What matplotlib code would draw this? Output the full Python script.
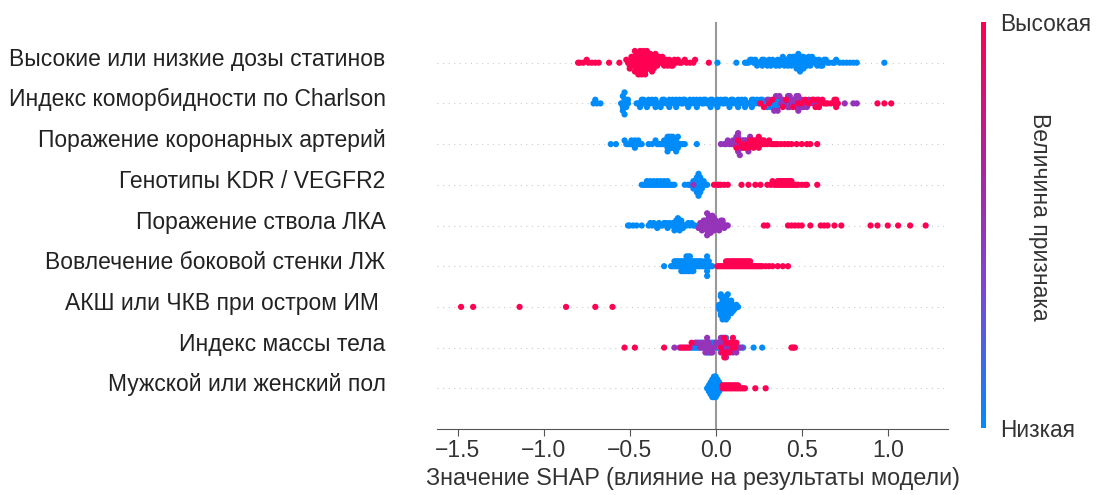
"""SHAP beeswarm: влияние признаков на результаты модели."""
import numpy as np
import matplotlib

matplotlib.use("Agg")
import matplotlib.pyplot as plt
from matplotlib.colors import LinearSegmentedColormap
from matplotlib.transforms import ScaledTranslation

plt.rcParams["font.family"] = ["Liberation Sans", "DejaVu Sans"]

# признаки сверху вниз
FEATURES = [
    "Высокие или низкие дозы статинов",
    "Индекс коморбидности по Charlson",
    "Поражение коронарных артерий",
    "Генотипы KDR / VEGFR2",
    "Поражение ствола ЛКА",
    "Вовлечение боковой стенки ЛЖ",
    "АКШ или ЧКВ при остром ИМ ",
    "Индекс массы тела",
    "Мужской или женский пол",
]

# значения SHAP, сгруппированные по величине признака (низкая / средняя / высокая)
STATIN_HIGH = [-0.80, -0.79, -0.77, -0.75, -0.74, -0.72, -0.70, -0.68, -0.62, -0.56,
               -0.52, -0.51, -0.50, -0.50, -0.49, -0.49, -0.49, -0.48, -0.48, -0.48,
               -0.48, -0.47, -0.47, -0.47, -0.47, -0.46, -0.46, -0.46, -0.46, -0.45,
               -0.45, -0.45, -0.45, -0.45, -0.44, -0.44, -0.44, -0.44, -0.43, -0.43,
               -0.43, -0.43, -0.43, -0.42, -0.42, -0.42, -0.42, -0.41, -0.41, -0.41,
               -0.41, -0.41, -0.40, -0.40, -0.40, -0.40, -0.39, -0.39, -0.39, -0.39,
               -0.39, -0.38, -0.38, -0.38, -0.38, -0.37, -0.37, -0.37, -0.36, -0.36,
               -0.36, -0.35, -0.35, -0.35, -0.34, -0.34, -0.33, -0.33, -0.32, -0.32,
               -0.31, -0.31, -0.30, -0.30, -0.29, -0.29, -0.28, -0.27, -0.27, -0.26,
               -0.25, -0.25, -0.24, -0.23, -0.22, -0.21, -0.20, -0.18, -0.17, -0.15,
               -0.13, -0.12, -0.04]
STATIN_LOW = [0.01, 0.12, 0.17, 0.18, 0.19, 0.20, 0.21, 0.22, 0.23, 0.24, 0.24, 0.25,
              0.26, 0.27, 0.27, 0.28, 0.29, 0.30, 0.30, 0.31, 0.32, 0.33, 0.33, 0.34,
              0.35, 0.35, 0.36, 0.37, 0.37, 0.38, 0.39, 0.39, 0.40, 0.40, 0.41, 0.41,
              0.42, 0.42, 0.43, 0.43, 0.44, 0.44, 0.45, 0.45, 0.46, 0.46, 0.47, 0.47,
              0.47, 0.48, 0.48, 0.48, 0.49, 0.49, 0.49, 0.49, 0.50, 0.50, 0.50, 0.50,
              0.51, 0.51, 0.51, 0.52, 0.52, 0.53, 0.53, 0.54, 0.54, 0.55, 0.55, 0.56,
              0.56, 0.57, 0.57, 0.58, 0.58, 0.59, 0.60, 0.60, 0.61, 0.62, 0.62, 0.63,
              0.64, 0.65, 0.66, 0.68, 0.69, 0.70, 0.72, 0.74, 0.76, 0.78, 0.80, 0.82,
              0.98]

CHARLSON_LOW = [-0.71, -0.70, -0.69, -0.67, -0.55, -0.54, -0.54, -0.54, -0.53, -0.53,
                -0.53, -0.53, -0.52, -0.52, -0.52, -0.51, -0.51, -0.46, -0.45, -0.44,
                -0.44, -0.43, -0.42, -0.42, -0.40, -0.39, -0.39, -0.38, -0.37, -0.36,
                -0.35, -0.35, -0.34, -0.33, -0.32, -0.31, -0.31, -0.30, -0.29, -0.28,
                -0.27, -0.27, -0.26, -0.25, -0.24, -0.23, -0.23, -0.22, -0.21, -0.20,
                -0.19, -0.19, -0.18, -0.17, -0.16, -0.15, -0.15, -0.14, -0.13, -0.12,
                -0.11, -0.11, -0.10, -0.09, -0.08, -0.07, -0.07, -0.06, -0.05, -0.04,
                -0.03, -0.03, -0.02, -0.01, 0.00, 0.01, 0.01, 0.02, 0.03, 0.04, 0.05,
                0.05, 0.06, 0.07, 0.08, 0.09, 0.09, 0.10, 0.11, 0.12, 0.13, 0.13, 0.14,
                0.15, 0.16, 0.17, 0.17, 0.18, 0.19, 0.20, 0.21, 0.21, 0.22, 0.23, 0.24,
                0.25, 0.26, 0.27, 0.28, 0.29, 0.30, 0.31, 0.32, 0.33, 0.34, 0.35, 0.35,
                0.36, 0.36, 0.37, 0.38]
CHARLSON_MID = [0.30, 0.34, 0.35, 0.36, 0.37, 0.38, 0.39, 0.40, 0.41, 0.42, 0.42, 0.43,
                0.43, 0.44, 0.44, 0.45, 0.45, 0.46, 0.46, 0.47, 0.47, 0.48, 0.48, 0.49,
                0.49, 0.50, 0.50, 0.51, 0.52, 0.53, 0.54, 0.55, 0.57, 0.58, 0.60, 0.75,
                0.80, 0.82]
CHARLSON_HIGH = [0.26, 0.28, 0.31, 0.33, 0.39, 0.41, 0.45, 0.48, 0.50, 0.52, 0.54, 0.56,
                 0.57, 0.58, 0.59, 0.60, 0.61, 0.62, 0.63, 0.64, 0.65, 0.67, 0.69, 0.69,
                 0.70, 0.70, 0.71, 0.94, 0.98, 1.02]

CORONARY_LOW = [-0.61, -0.58, -0.53, -0.52, -0.51, -0.50, -0.49, -0.49, -0.48, -0.47,
                -0.47, -0.46, -0.45, -0.45, -0.44, -0.43, -0.39, -0.37, -0.35, -0.34,
                -0.33, -0.32, -0.31, -0.30, -0.30, -0.29, -0.29, -0.28, -0.28, -0.28,
                -0.27, -0.27, -0.27, -0.27, -0.26, -0.26, -0.26, -0.26, -0.25, -0.25,
                -0.25, -0.25, -0.24, -0.24, -0.24, -0.23, -0.23, -0.23, -0.22, -0.22,
                -0.21, -0.20, -0.19, -0.18, -0.11]
CORONARY_MID = [0.03, 0.05, 0.06, 0.07, 0.08, 0.09, 0.10, 0.10, 0.11, 0.11, 0.12, 0.12,
                0.12, 0.13, 0.13, 0.13, 0.14, 0.14, 0.14, 0.15, 0.15, 0.16, 0.16, 0.17,
                0.17, 0.18, 0.19, 0.20, 0.22]
CORONARY_HIGH = [0.12, 0.13, 0.15, 0.16, 0.17, 0.18, 0.19, 0.20, 0.20, 0.21, 0.21, 0.22,
                 0.22, 0.23, 0.23, 0.24, 0.24, 0.25, 0.25, 0.26, 0.26, 0.27, 0.27, 0.28,
                 0.28, 0.29, 0.30, 0.31, 0.32, 0.33, 0.34, 0.35, 0.36, 0.38, 0.40, 0.42,
                 0.44, 0.47, 0.50, 0.53, 0.55, 0.59]

KDR_LOW = [-0.43, -0.42, -0.41, -0.40, -0.40, -0.39, -0.38, -0.38, -0.37, -0.36, -0.36,
           -0.35, -0.34, -0.34, -0.33, -0.32, -0.32, -0.31, -0.30, -0.30, -0.29, -0.28,
           -0.28, -0.27, -0.26, -0.25, -0.24, -0.18, -0.16, -0.15, -0.14, -0.13, -0.13,
           -0.12, -0.12, -0.12, -0.11, -0.11, -0.11, -0.11, -0.11, -0.10, -0.10, -0.10,
           -0.10, -0.10, -0.10, -0.10, -0.09, -0.09, -0.09, -0.09, -0.09, -0.08, -0.08,
           -0.08, -0.07, -0.07, -0.06, -0.05]
KDR_MID = [-0.13]
KDR_HIGH = [-0.01, 0.01, 0.02, 0.03, 0.05, 0.07, 0.15, 0.19, 0.23, 0.26, 0.30, 0.32,
            0.33, 0.34, 0.35, 0.36, 0.36, 0.37, 0.37, 0.38, 0.38, 0.39, 0.39, 0.40,
            0.40, 0.41, 0.41, 0.42, 0.42, 0.43, 0.43, 0.44, 0.44, 0.45, 0.46, 0.47,
            0.48, 0.50, 0.52, 0.53, 0.59]

LMCA_LOW = [-0.51, -0.50, -0.48, -0.46, -0.43, -0.39, -0.38, -0.37, -0.36, -0.35, -0.34,
            -0.33, -0.33, -0.32, -0.31, -0.30, -0.29, -0.28, -0.28, -0.27, -0.26, -0.25,
            -0.25, -0.24, -0.24, -0.23, -0.23, -0.23, -0.22, -0.22, -0.22, -0.21, -0.21,
            -0.21, -0.20, -0.20, -0.19, -0.19, -0.18, -0.17, -0.16, -0.15, -0.14, -0.13,
            -0.12]
LMCA_MID = [-0.10, -0.09, -0.09, -0.08, -0.08, -0.07, -0.07, -0.07, -0.06, -0.06, -0.06,
            -0.06, -0.05, -0.05, -0.05, -0.05, -0.05, -0.04, -0.04, -0.04, -0.04, -0.04,
            -0.03, -0.03, -0.03, -0.03, -0.02, -0.02, -0.02, -0.02, -0.01, -0.01, -0.01,
            0.00, 0.00, 0.00, 0.01, 0.01, 0.01, 0.02, 0.02, 0.02, 0.03, 0.03, 0.04,
            0.04, 0.05, 0.05, 0.06, 0.07]
LMCA_HIGH = [0.28, 0.30, 0.42, 0.44, 0.46, 0.48, 0.50, 0.55, 0.61, 0.63, 0.65, 0.69,
             0.73, 0.90, 0.94, 1.00, 1.06, 1.13, 1.22]

LATERAL_LOW = [-0.30, -0.26, -0.25, -0.24, -0.24, -0.23, -0.23, -0.22, -0.22, -0.21,
               -0.21, -0.20, -0.20, -0.20, -0.19, -0.19, -0.19, -0.18, -0.18, -0.18,
               -0.17, -0.17, -0.17, -0.17, -0.16, -0.16, -0.16, -0.16, -0.15, -0.15,
               -0.15, -0.15, -0.14, -0.14, -0.14, -0.13, -0.13, -0.13, -0.12, -0.12,
               -0.11, -0.11, -0.10, -0.10, -0.09, -0.09, -0.08, -0.08, -0.07, -0.06,
               -0.06, -0.05, -0.05, -0.05, -0.05, -0.05, -0.04, -0.04, -0.03, -0.02]
LATERAL_HIGH = [0.01, 0.02, 0.03, 0.04, 0.05, 0.06, 0.06, 0.07, 0.07, 0.08, 0.08, 0.09,
                0.09, 0.10, 0.10, 0.11, 0.11, 0.12, 0.12, 0.13, 0.13, 0.14, 0.14, 0.15,
                0.15, 0.16, 0.16, 0.17, 0.17, 0.18, 0.18, 0.19, 0.19, 0.20, 0.20, 0.21,
                0.22, 0.23, 0.24, 0.25, 0.26, 0.27, 0.29, 0.31, 0.33, 0.36, 0.39, 0.42]

CABG_HIGH = [-1.48, -1.41, -1.14, -0.87, -0.70, -0.60]
CABG_LOW = [0.02, 0.02, 0.02, 0.03, 0.03, 0.03, 0.03, 0.03, 0.03, 0.04, 0.04, 0.04,
            0.04, 0.04, 0.04, 0.04, 0.05, 0.05, 0.05, 0.05, 0.05, 0.05, 0.05, 0.05,
            0.06, 0.06, 0.06, 0.06, 0.06, 0.06, 0.06, 0.07, 0.07, 0.07, 0.07, 0.07,
            0.07, 0.08, 0.08, 0.08, 0.08, 0.08, 0.09, 0.09, 0.09, 0.09, 0.10, 0.10,
            0.10, 0.11, 0.11, 0.12, 0.13]

BMI_LOW = [-0.14, -0.13, -0.12, -0.11, -0.10, -0.09, -0.08, -0.07, -0.06, -0.05, -0.04,
           -0.03, -0.02, -0.01, 0.00, 0.01, 0.02, 0.03, 0.04, 0.06, 0.08, 0.10, 0.12,
           0.14, 0.16, 0.22, 0.27]
BMI_MID = [-0.24, -0.21, -0.18, -0.15, -0.12, -0.11, -0.10, -0.09, -0.08, -0.07, -0.06,
           -0.06, -0.05, -0.05, -0.05, -0.04, -0.04, -0.03, -0.03, -0.02, -0.02, -0.01,
           0.00, 0.01, 0.02, 0.03, 0.03, 0.04, 0.04, 0.05, 0.05, 0.05, 0.06, 0.06, 0.07,
           0.08, 0.09, 0.10, 0.12, 0.13, 0.15]
BMI_HIGH = [-0.53, -0.47, -0.30, -0.20, -0.19, -0.17, -0.16, -0.14, 0.03, 0.04, 0.05,
            0.05, 0.06, 0.06, 0.07, 0.07, 0.08, 0.09, 0.10, 0.10, 0.11, 0.12, 0.44,
            0.45, 0.46]

SEX_LOW = [-0.05, -0.04, -0.04, -0.04, -0.03, -0.03, -0.03, -0.03, -0.03, -0.02, -0.02,
           -0.02, -0.02, -0.02, -0.02, -0.02, -0.01, -0.01, -0.01, -0.01, -0.01, -0.01,
           -0.01, -0.01, 0.00, 0.00, 0.00, 0.00, 0.00, 0.00, 0.00, 0.00, 0.01, 0.01,
           0.01, 0.01, 0.01, 0.01, 0.02, 0.02, 0.02, 0.02, 0.03, 0.03]
SEX_HIGH = [0.04, 0.04, 0.05, 0.05, 0.06, 0.06, 0.07, 0.07, 0.08, 0.08, 0.09, 0.09,
            0.10, 0.10, 0.11, 0.11, 0.12, 0.12, 0.13, 0.13, 0.14, 0.15, 0.16, 0.17,
            0.23, 0.29]

LEVELS = (0.0, 0.5, 1.0)  # низкая / средняя / высокая величина признака

ROWS = [
    (STATIN_LOW, [], STATIN_HIGH),
    (CHARLSON_LOW, CHARLSON_MID, CHARLSON_HIGH),
    (CORONARY_LOW, CORONARY_MID, CORONARY_HIGH),
    (KDR_LOW, KDR_MID, KDR_HIGH),
    (LMCA_LOW, LMCA_MID, LMCA_HIGH),
    (LATERAL_LOW, [], LATERAL_HIGH),
    (CABG_LOW, [], CABG_HIGH),
    (BMI_LOW, BMI_MID, BMI_HIGH),
    (SEX_LOW, [], SEX_HIGH),
]


def swarm(x, row_height=0.4, nbins=100):
    """Вертикальные смещения точек как в shap.summary_plot."""
    x = np.asarray(x, dtype=float)
    n = len(x)
    quant = np.round(nbins * (x - x.min()) / (x.max() - x.min() + 1e-8))
    mix = (np.arange(n) * 7919) % n  # перемешиваем цвета внутри корзины
    order = np.lexsort((mix, quant))
    ys = np.zeros(n)
    layer, last = 0, None
    for i in order:
        if quant[i] != last:
            layer = 0
        ys[i] = np.ceil(layer / 2) * ((layer % 2) * 2 - 1)
        layer += 1
        last = quant[i]
    return ys * 0.9 * (row_height / np.max(ys + 1))


cmap = LinearSegmentedColormap.from_list(
    "red_blue", ["#008bfb", "#7b47d9", "#b0219a", "#ff0052"])

W, H = 1099, 495
fig = plt.figure(figsize=(W / 100, H / 100), dpi=100)
ax = fig.add_axes([437 / W, 66 / H, 511 / W, 407 / H])

n = len(FEATURES)
for i, groups in enumerate(ROWS):
    pos = n - 1 - i
    xs = np.concatenate([np.asarray(g, dtype=float) for g in groups])
    cs = np.concatenate([np.full(len(g), lv) for g, lv in zip(groups, LEVELS)])
    ys = swarm(xs)
    ax.axhline(pos, color="#cccccc", lw=0.8, dashes=(1, 4), zorder=-1)
    ax.scatter(xs, pos + ys, c=cs, cmap=cmap, vmin=0, vmax=1, s=20,
               linewidths=0, zorder=3)

ax.axvline(0, color="#999999", lw=1.5, zorder=-1)
ax.set_xlim(-1.62, 1.35)
ax.set_ylim(-1, n)

for side in ("top", "left", "right"):
    ax.spines[side].set_visible(False)
ax.spines["bottom"].set_color("#555555")

ticks = [-1.5, -1.0, -0.5, 0.0, 0.5, 1.0]
ax.set_xticks(ticks)
ax.set_xticklabels([f"{t:.1f}".replace("-", "\u2212") for t in ticks])
ax.tick_params(axis="x", colors="#555555", labelcolor="#333333", labelsize=16.5,
               length=5, pad=2)
ax.set_xlabel("Значение SHAP (влияние на результаты модели)", fontsize=16.8,
              color="#333333", labelpad=4)

ax.set_yticks(range(n))
ax.set_yticklabels(FEATURES[::-1], fontsize=16.5, color="#222222")
ax.tick_params(axis="y", length=0, pad=37)
shift = ScaledTranslation(0, 0.06, fig.dpi_scale_trans)
for lab in ax.get_yticklabels():
    lab.set_transform(lab.get_transform() + shift)

# цветовая шкала
cax = fig.add_axes([981 / W, 67 / H, 5 / W, 406 / H])
sm = plt.cm.ScalarMappable(cmap=cmap, norm=plt.Normalize(0, 1))
cb = fig.colorbar(sm, cax=cax, ticks=[0, 1])
cb.outline.set_visible(False)
cb.ax.set_yticklabels(["Низкая", "Высокая"])
cb.ax.tick_params(length=0, labelsize=16.3, labelcolor="#333333", pad=10)
fig.text(1040 / W, 1 - 217 / H, "Величина признака", rotation=270, ha="center",
         va="center", fontsize=16.5, color="#333333")

fig.savefig("out.png", dpi=100)
